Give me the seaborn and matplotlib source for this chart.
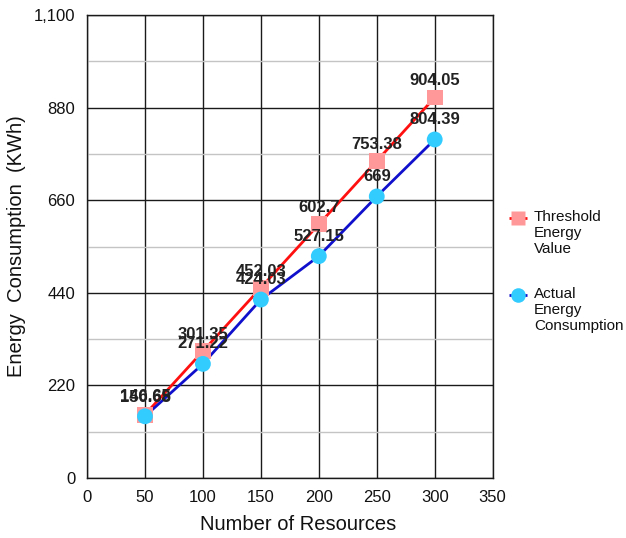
import numpy as np
import pandas as pd
import matplotlib
matplotlib.use("Agg")
import matplotlib.pyplot as plt
import seaborn as sns
from matplotlib.lines import Line2D
from matplotlib.ticker import MultipleLocator, FuncFormatter

# data
resources = [50, 100, 150, 200, 250, 300]
threshold = [150.68, 301.35, 452.03, 602.7, 753.38, 904.05]
actual = [146.65, 271.22, 424.03, 527.15, 669, 804.39]
threshold_labels = ["150.68", "301.35", "452.03", "602.7", "753.38", "904.05"]
actual_labels = ["146.65", "271.22", "424.03", "527.15", "669", "804.39"]
legend_names = ["Threshold\nEnergy\nValue", "Actual\nEnergy\nConsumption"]

df = pd.DataFrame({"Resources": resources, "Threshold": threshold, "Actual": actual})

sns.set_style("white")
plt.rcParams["font.family"] = ["Liberation Sans", "DejaVu Sans"]

fig = plt.figure(figsize=(6.26, 5.38), dpi=100)
ax = fig.add_axes([0.139, 0.1115, 0.648, 0.8605])

# grid: dark major lines, light minor lines on y
ax.set_xlim(0, 350)
ax.set_ylim(0, 1100)
ax.xaxis.set_major_locator(MultipleLocator(50))
ax.yaxis.set_major_locator(MultipleLocator(220))
ax.yaxis.set_minor_locator(MultipleLocator(110))
ax.yaxis.set_major_formatter(FuncFormatter(lambda v, p: f"{int(v):,}"))
ax.grid(True, which="major", color="#1a1a1a", linewidth=1.0)
ax.grid(True, which="minor", axis="y", color="#c4c4c4", linewidth=1.0)
ax.set_axisbelow(True)
ax.tick_params(which="major", direction="out", length=5, width=1, color="#1a1a1a",
               labelsize=12, labelcolor="#111111")
ax.tick_params(which="minor", length=0)
for s in ax.spines.values():
    s.set_color("#1a1a1a")
    s.set_linewidth(1.0)

# lines
red, blue = "#ff1010", "#1010cc"
pink, cyan = "#ff9999", "#33ccff"
sns.lineplot(data=df, x="Resources", y="Threshold", color=red, linewidth=2, ax=ax)
sns.lineplot(data=df, x="Resources", y="Actual", color=blue, linewidth=2, ax=ax)
sns.scatterplot(data=df, x="Resources", y="Threshold", marker="s", s=130,
                color=pink, edgecolor="none", ax=ax, zorder=3)
sns.scatterplot(data=df, x="Resources", y="Actual", marker="o", s=130,
                color=cyan, edgecolor="none", ax=ax, zorder=3)

for x, y, t in zip(resources, threshold, threshold_labels):
    ax.annotate(t, (x, y), xytext=(0, 12), textcoords="offset points", ha="center",
                va="center", fontsize=12, fontweight="bold", color="#222222", zorder=4)
for x, y, t in zip(resources, actual, actual_labels):
    ax.annotate(t, (x, y), xytext=(0, 14.5), textcoords="offset points", ha="center",
                va="center", fontsize=12, fontweight="bold", color="#222222", zorder=4)

ax.set_xlabel("Number of Resources", fontsize=14.5, color="#111111")
ax.set_ylabel("Energy  Consumption  (KWh)", fontsize=14.5, color="#111111")
ax.xaxis.set_label_coords(0.52, -0.08)
ax.yaxis.set_label_coords(-0.15, 0.5)

# legend drawn by hand so the handle sits on the first text line
W, H = 626, 538
entries = [(red, pink, "s", 218), (blue, cyan, "o", 295)]
for (lc, mc, mk, ypx), name in zip(entries, legend_names):
    yf = 1 - ypx / H
    fig.add_artist(Line2D([509 / W, 527 / W], [yf, yf], color=lc, linestyle="--",
                          linewidth=2, transform=fig.transFigure))
    fig.add_artist(Line2D([518 / W], [yf], marker=mk, markersize=10.5, markerfacecolor=mc,
                          markeredgecolor="none", linestyle="none",
                          transform=fig.transFigure))
    fig.text(534 / W, yf + 8 / H, name, ha="left", va="top", fontsize=11,
             color="#111111", linespacing=1.2)

fig.savefig("out.png", dpi=100)
